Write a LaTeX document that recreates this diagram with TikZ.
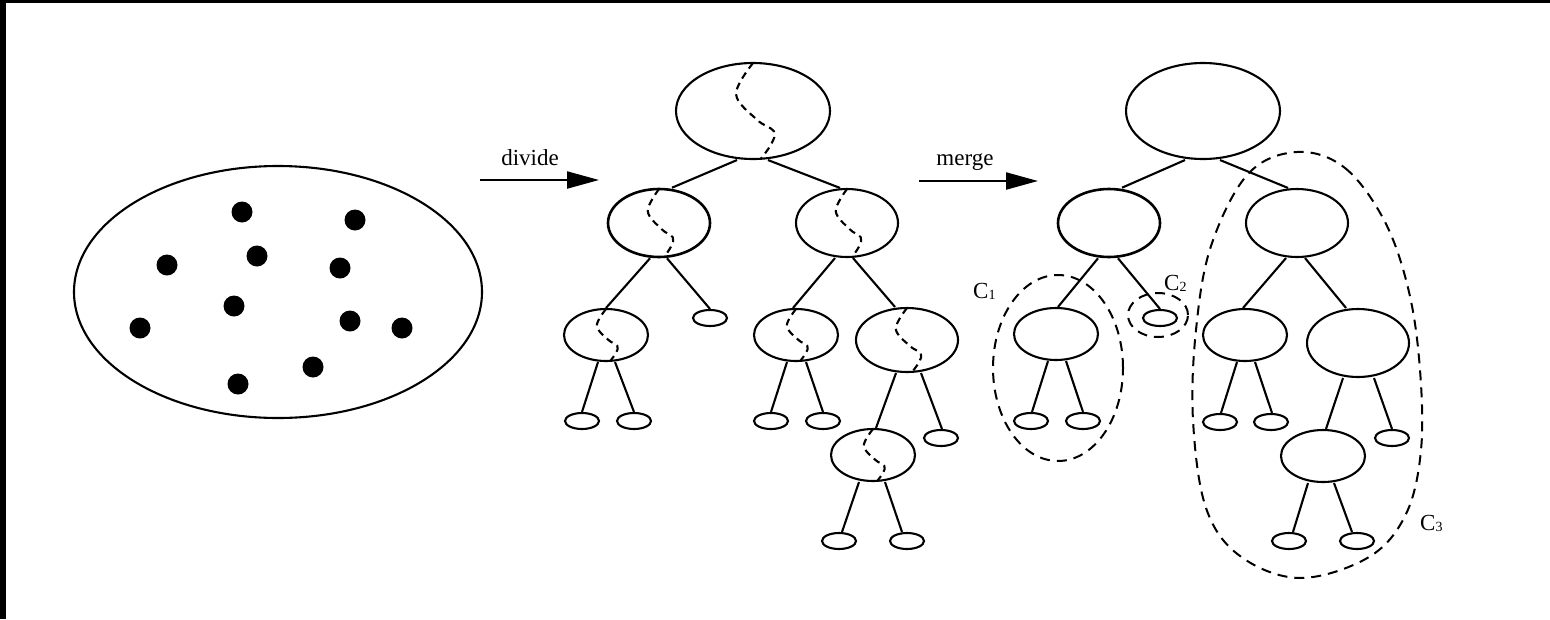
\documentclass[tikz,border=0pt]{standalone}
\usepackage{fontspec}
\setmainfont{Liberation Serif}
\usetikzlibrary{shapes.geometric,arrows.meta,calc}
\tikzset{
  ol/.style={draw, ellipse, line width=2.1pt, inner sep=0pt},
  rootnd/.style={ol, minimum width=154, minimum height=96},
  bignd/.style={ol, minimum width=102, minimum height=68},
  midnd/.style={ol, minimum width=84, minimum height=52},
  leafnd/.style={ol, minimum width=34, minimum height=16},
  edge/.style={line width=2.1pt},
  wave/.style={line width=2.1pt, dash pattern=on 7pt off 5pt},
  clusline/.style={line width=2pt, dash pattern=on 10pt off 7pt},
  clus/.style={draw, ellipse, clusline, inner sep=0pt},
  dot/.style={circle, fill=black, inner sep=0pt, minimum size=21},
  arr/.style={line width=2.2pt, -{Triangle[length=32pt,width=17pt]}},
  lbl/.style={font=\fontsize{23}{26}\selectfont, inner sep=0pt},
}
\newcommand{\wavy}[3]{\begin{scope}[shift={(#1.center)},x=#2pt,y=-#3pt]
  \draw[wave] plot[smooth,tension=0.6] coordinates{(0,-1)(-0.22,-0.35)(0.05,0.18)(0.27,0.42)(0.24,0.68)(0.1,1)};
\end{scope}}
\newcommand{\edg}[4]{\draw[edge] ($(#1.south)+(#2,0)$) -- ($(#3.north)+(#4,0)$);}
\newcommand{\lowsub}[1]{{\fontsize{14}{14}\selectfont\raisebox{-1pt}{#1}}}
\begin{document}
\begin{tikzpicture}[x=1pt,y=-1pt]
\useasboundingbox (0,0) rectangle (1550,619);
\fill[black] (0,0) rectangle (1550,3);
\fill[black] (0,0) rectangle (6,619);

% point set
\node[ol, minimum width=408, minimum height=252] (set) at (278,292) {};
\foreach \n/\p in {d1/{(242,212)}, d2/{(355,220)}, d3/{(257,256)}, d4/{(167,265)}, d5/{(340,268)}, d6/{(234,306)}, d7/{(140,328)}, d8/{(350,321)}, d9/{(402,328)}, d10/{(313,367)}, d11/{(238,384)}}
  \node[dot] (\n) at \p {};

% arrows
\coordinate (a1s) at (480,180); \coordinate (a1e) at (599,180);
\draw[arr] (a1s) -- (a1e);
\node[lbl, anchor=base] (tdiv) at (530,165) {divide};
\coordinate (a2s) at (919,181); \coordinate (a2e) at (1038,181);
\draw[arr] (a2s) -- (a2e);
\node[lbl, anchor=base] (tmer) at (965,165) {merge};

% middle tree
\node[rootnd] (mr) at (753,111) {};
\node[bignd, line width=2.6pt] (ma) at (659,223) {};
\node[bignd] (mb) at (847,223) {};
\node[midnd] (maa) at (606,335) {};
\node[leafnd] (mab) at (710,318) {};
\node[leafnd] (maa1) at (582,421) {};
\node[leafnd] (maa2) at (634,421) {};
\node[midnd] (mba) at (796,335) {};
\node[bignd, minimum height=64] (mbb) at (907,340) {};
\node[leafnd] (mba1) at (771,421) {};
\node[leafnd] (mba2) at (823,421) {};
\node[midnd] (mbba) at (873,455) {};
\node[leafnd] (mbbb) at (941,438) {};
\node[leafnd] (mbba1) at (839,541) {};
\node[leafnd] (mbba2) at (907,541) {};

\edg{mr}{-16}{ma}{13}
\edg{mr}{15}{mb}{-7}
\edg{ma}{-9}{maa}{0}
\edg{ma}{8}{mab}{0}
\edg{maa}{-8}{maa1}{0}
\edg{maa}{9}{maa2}{0}
\edg{mb}{-12}{mba}{-3}
\edg{mb}{6}{mbb}{-12}
\edg{mba}{-9}{mba1}{0}
\edg{mba}{10}{mba2}{0}
\edg{mbb}{-11}{mbba}{3}
\edg{mbb}{14}{mbbb}{1}
\edg{mbba}{-14}{mbba1}{3}
\edg{mbba}{12}{mbba2}{-5}

\wavy{mr}{77}{48}
\wavy{ma}{51}{34}
\wavy{mb}{51}{34}
\wavy{maa}{42}{26}
\wavy{mba}{42}{26}
\wavy{mbb}{51}{32}
\wavy{mbba}{42}{26}

% right tree
\node[rootnd] (rr) at (1203,111) {};
\node[bignd, line width=2.6pt] (ra) at (1109,223) {};
\node[bignd] (rb) at (1297,223) {};
\node[midnd] (raa) at (1056,334) {};
\node[leafnd] (rab) at (1160,318) {};
\node[leafnd] (raa1) at (1031,421) {};
\node[leafnd] (raa2) at (1083,421) {};
\node[midnd] (rba) at (1245,335) {};
\node[bignd] (rbb) at (1358,343) {};
\node[leafnd] (rba1) at (1220,422) {};
\node[leafnd] (rba2) at (1271,422) {};
\node[midnd] (rbba) at (1323,456) {};
\node[leafnd] (rbbb) at (1392,438) {};
\node[leafnd] (rbba1) at (1289,541) {};
\node[leafnd] (rbba2) at (1357,541) {};

\edg{rr}{-18}{ra}{13}
\edg{rr}{17}{rb}{-9}
\edg{ra}{-11}{raa}{2}
\edg{ra}{9}{rab}{0}
\edg{raa}{-8}{raa1}{1}
\edg{raa}{10}{raa2}{0}
\edg{rb}{-11}{rba}{-2}
\edg{rb}{8}{rbb}{-12}
\edg{rba}{-8}{rba1}{1}
\edg{rba}{10}{rba2}{1}
\edg{rbb}{-15}{rbba}{3}
\edg{rbb}{16}{rbbb}{0}
\edg{rbba}{-15}{rbba1}{4}
\edg{rbba}{11}{rbba2}{-5}

% clusters
\node[clus, minimum width=130, minimum height=186] (C1) at (1058,368) {};
\node[clus, minimum width=60, minimum height=44] (C2) at (1158,315) {};
\draw[clusline] plot[smooth cycle, tension=0.6] coordinates{(1297,152)(1345,168)(1385,222)(1409,292)(1420,370)(1421,450)(1406,514)(1369,557)(1300,578)(1240,556)(1206,508)(1193,420)(1196,330)(1211,246)(1248,174)};
\node[lbl, anchor=base west] (t1) at (973,298) {C\lowsub{1}};
\node[lbl, anchor=base west] (t2) at (1164,290) {C\lowsub{2}};
\node[lbl, anchor=base west] (t3) at (1420,530) {C\lowsub{3}};
\end{tikzpicture}
\end{document}
